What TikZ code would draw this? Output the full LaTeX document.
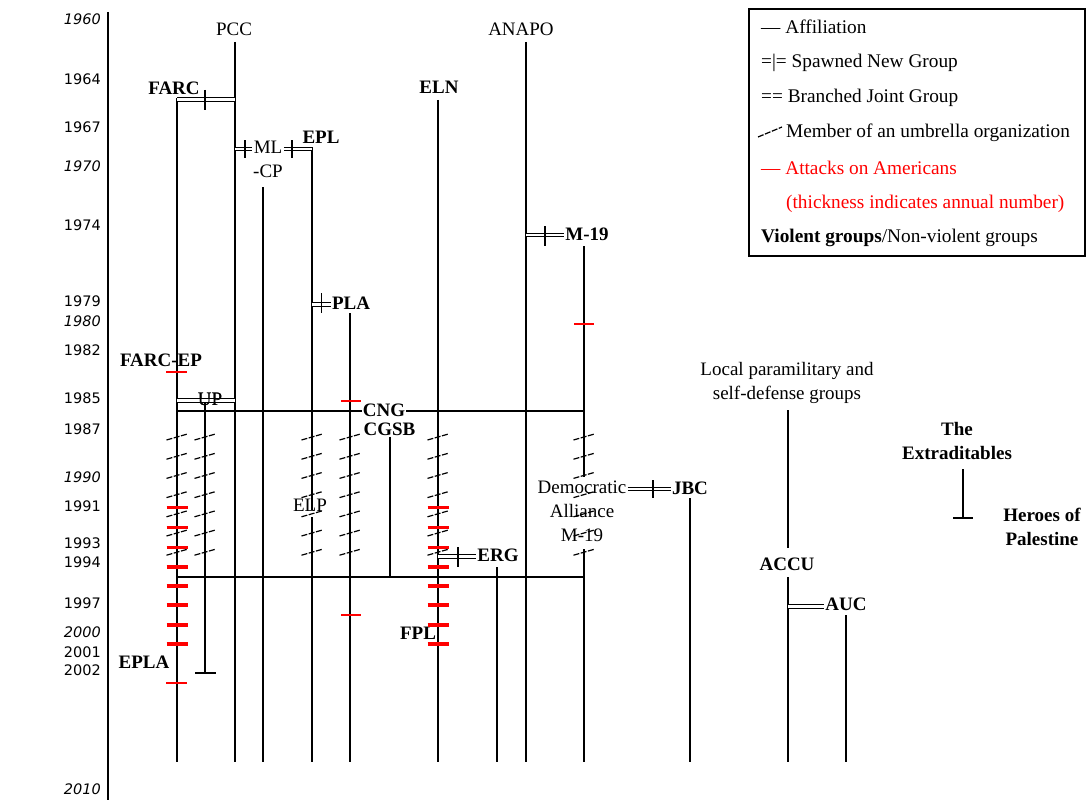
\documentclass[tikz,border=0pt]{standalone}
\usepackage{fontspec}
\setmainfont{Liberation Serif}
\newfontfamily\yearfont{DejaVu Sans}
\usepackage{tikz}
\usetikzlibrary{positioning,calc}
\definecolor{AttackRed}{RGB}{255,0,0}
\definecolor{LineInk}{RGB}{0,0,0}

\begin{document}
\begin{tikzpicture}[
    x=1pt,y=-1pt,
    line/.style={line width=1.2pt,LineInk},
    spawn/.style={draw=LineInk,double=white,double distance=2.4pt,line width=1.1pt},
    cross/.style={line width=1.2pt,LineInk},
    umb/.style={line width=1.2pt,dash pattern=on 6pt off 1.5pt,LineInk},
    attack/.style={AttackRed,line width=#1},
    grp/.style={font=\fontsize{19}{24}\selectfont\bfseries,inner sep=1pt,align=center},
    nvgrp/.style={font=\fontsize{19}{24}\selectfont,inner sep=1pt,align=center},
    yr/.style={font=\yearfont\fontsize{14.5}{16}\selectfont,anchor=east,inner sep=0pt},
    yri/.style={font=\yearfont\itshape\fontsize{14.5}{16}\selectfont,anchor=east,inner sep=0pt},
    key/.style={font=\fontsize{19.3}{24}\selectfont,anchor=west,inner sep=0pt}
  ]
    \fill[white] (0,0) rectangle (1088,808);
    \useasboundingbox (0,0) rectangle (1088,808);

    % year axis
    \coordinate (axisT) at (108,12);
    \coordinate (axisB) at (108,800);
    \draw[line] (axisT) -- (axisB);
    \foreach \yy/\ypos in {1960/19,1970/166,1980/321,1990/477,2000/632,2010/789}
      \node[yri] (y\yy) at (101,\ypos) {\yy};
    \foreach \yy/\ypos in {1964/79,1967/127,1974/225,1979/301,1982/350,1985/398,1987/429,1991/506,1993/543,1994/562,1997/603,2001/652,2002/670}
      \node[yr] (y\yy) at (101,\ypos) {\yy};

    % group labels
    \node[nvgrp] (PCC) at (234,29) {PCC};
    \node[nvgrp] (ANAPO) at (521,29) {ANAPO};
    \node[grp] (FARC) at (174,88) {FARC};
    \node[grp] (ELN) at (439,87) {ELN};
    \node[nvgrp] (MLCP) at (268,159) {ML\\-CP};
    \node[grp] (EPL) at (321,137) {EPL};
    \node[grp] (M19) at (587,234) {M-19};
    \node[grp] (PLA) at (351,303) {PLA};
    \node[grp] (FARCEP) at (161,360) {FARC-EP};
    \node[nvgrp] (UP) at (210,399) {UP};
    \node[grp] (CNG) at (384,410) {CNG};
    \node[grp] (CGSB) at (389.5,429) {CGSB};
    \node[nvgrp] (ELP) at (310,505) {ELP};
    \node[nvgrp] (DA) at (582,511) {Democratic\\Alliance\\M-19};
    \node[grp] (ERG) at (498,555) {ERG};
    \node[grp] (JBC) at (690,488) {JBC};
    \node[nvgrp] (LPSD) at (787,383) {Local paramilitary and\\self-defense groups};
    \node[grp] (ACCU) at (787,564) {ACCU};
    \node[grp] (AUC) at (846,604) {AUC};
    \node[grp] (EXT) at (957,441) {The\\Extraditables};
    \node[grp] (HOP) at (1042,527) {Heroes of\\Palestine};
    \node[grp] (EPLA) at (144,662) {EPLA};
    \node[grp] (FPL) at (418,633) {FPL};

    % group lines
    \draw[line] (177,98) -- (177,762);
    \draw[line] (205,402) -- (205,673);
    \draw[line] (195,673) -- (216,673);
    \draw[line] (235,42) -- (235,762);
    \draw[line] (263,187) -- (263,762);
    \draw[line] (312,147) -- (312,510);
    \draw[line] (312,517) -- (312,762);
    \draw[line] (350,313) -- (350,762);
    \draw[line] (CGSB.south -| 390,0) -- (390,577);
    \draw[line] (438,100) -- (438,762);
    \draw[line] (497,567) -- (497,762);
    \draw[line] (526,42) -- (526,762);
    \draw[line] (584,246) -- (584,477);
    \draw[line] (584,549) -- (584,762);
    \draw[line] (690,498) -- (690,762);
    \draw[line] (788,410) -- (788,548);
    \draw[line] (788,577) -- (788,762);
    \draw[line] (846,615) -- (846,762);
    \draw[line] (963,469) -- (963,518);
    \draw[line] (953,518) -- (973,518);

    % spawned and branched groups
    \coordinate (farcJ) at (177,99.5);
    \draw[spawn] (farcJ) -- (235,99.5);
    \draw[cross] (205,90) -- (205,110);
    \coordinate (mlcpJ) at (235,149);
    \draw[spawn] (mlcpJ) -- (mlcpJ -| MLCP.west);
    \draw[cross] (245,140) -- (245,158);
    \draw[spawn] (MLCP.east |- mlcpJ) -- (312,149);
    \draw[cross] (292,140) -- (292,158);
    \coordinate (m19J) at (526,235);
    \draw[spawn] (m19J) -- (m19J -| M19.west);
    \draw[cross] (545,226) -- (545,246);
    \coordinate (plaJ) at (312,304.5);
    \draw[spawn] (plaJ) -- (plaJ -| PLA.west);
    \draw[cross] (321.5,293) -- (321.5,313);
    \draw[spawn] (177,400.5) -- (235,400.5);
    \node[nvgrp] at (UP) {UP};
    \coordinate (ergJ) at (438,556.5);
    \draw[spawn] (ergJ) -- (ergJ -| ERG.west);
    \draw[cross] (458,547) -- (458,567);
    \coordinate (jbcJ) at (600,489);
    \draw[spawn] (DA.east |- jbcJ) -- (JBC.west |- jbcJ);
    \draw[cross] (653,480) -- (653,498);
    \coordinate (aucJ) at (788,606.5);
    \draw[spawn] (aucJ) -- (aucJ -| AUC.west);

    % umbrella organizations CNG / CGSB
    \draw[line] (177,411) -- (CNG.west |- 0,411);
    \draw[line] (CNG.east |- 0,411) -- (584,411);
    \draw[line] (177,577) -- (584,577);
    \foreach \x in {177,205,312,350,438,584}
      \foreach \k in {0,...,6}
        \draw[umb] ({\x-10.5},{437+19.2*\k+3}) -- ({\x+10.5},{437+19.2*\k-3});

    % attacks on Americans
    \draw[attack=2pt] (574,324) -- (594,324);
    \draw[attack=2pt] (166,372) -- (187,372);
    \draw[attack=2pt] (341,401) -- (361,401);
    \draw[attack=2pt] (341,615) -- (361,615);
    \draw[attack=2pt] (166,683) -- (187,683);
    \foreach \x in {177,438} {
      \foreach \ypos in {507,527,547}
        \draw[attack=3pt] ({\x-10.5},\ypos) -- ({\x+10.5},\ypos);
      \foreach \ypos in {567,586,605,625,644}
        \draw[attack=4.5pt] ({\x-10.5},\ypos) -- ({\x+10.5},\ypos);
    }

    % legend
    \draw[line width=1.2pt] (749,9) rectangle (1085,256);
    \node[key] (kAff) at (761,27) {— Affiliation};
    \node[key] (kSpawn) at (761,63) {=|= Spawned New Group};
    \node[key] (kBranch) at (761,98) {== Branched Joint Group};
    \draw[umb] (758,137) -- (782,127);
    \node[key] (kUmb) at (786,133) {Member of an umbrella organization};
    \node[key,text=AttackRed] (kAtt) at (761,168) {— Attacks on Americans};
    \node[key,text=AttackRed] (kThick) at (786,204) {(thickness indicates annual number)};
    \node[key] (kViol) at (761,238) {\textbf{Violent groups}/Non-violent groups};
  \end{tikzpicture}
\end{document}
